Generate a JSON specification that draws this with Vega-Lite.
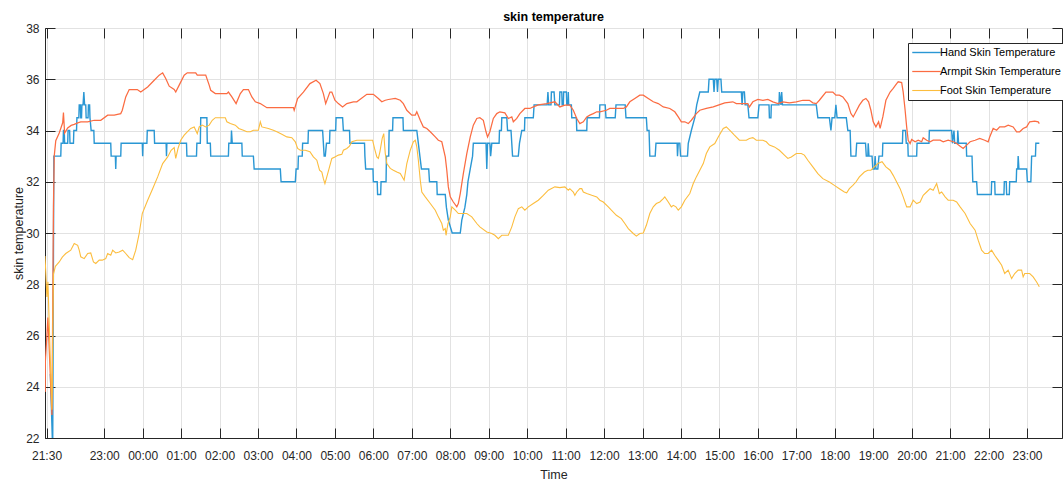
{
"$schema":"https://vega.github.io/schema/vega-lite/v6.json",
"width":1017,"height":410,
"autosize":{"type":"none"},
"padding":{"left":45,"top":28,"right":1,"bottom":43},
"background":"#ffffff",
"title":{"text":"skin temperature","fontSize":12.5,"fontWeight":"bold","color":"#000000","font":"Liberation Sans","offset":-1,"anchor":"middle"},
"config":{
 "font":"Liberation Sans",
 "view":{"stroke":"#262626","strokeWidth":1},
 "axis":{"labelFont":"Liberation Sans","labelFontSize":12,"labelColor":"#262626","titleFont":"Liberation Sans","titleFontSize":12.5,"titleFontWeight":"normal","titleColor":"#262626","gridColor":"#e2e2e2","gridOpacity":1,"domainColor":"#262626","tickColor":"#262626"}
},
"datasets":{"d":[
{"s":"Hand","h":21.6,"v":24.5},{"s":"Hand","h":21.66,"v":21.5},{"s":"Hand","h":21.69,"v":33.0},{"s":"Hand","h":21.87,"v":33.0},{"s":"Hand","h":21.88,"v":33.5},{"s":"Hand","h":21.93,"v":33.5},{"s":"Hand","h":21.94,"v":34.0},{"s":"Hand","h":21.96,"v":34.0},{"s":"Hand","h":21.97,"v":33.5},{"s":"Hand","h":22.05,"v":33.5},{"s":"Hand","h":22.06,"v":34.0},{"s":"Hand","h":22.1,"v":34.0},{"s":"Hand","h":22.11,"v":33.5},{"s":"Hand","h":22.2,"v":33.5},{"s":"Hand","h":22.21,"v":34.0},{"s":"Hand","h":22.28,"v":34.0},{"s":"Hand","h":22.29,"v":34.5},{"s":"Hand","h":22.34,"v":34.5},{"s":"Hand","h":22.35,"v":35.0},{"s":"Hand","h":22.38,"v":35.0},{"s":"Hand","h":22.39,"v":34.5},{"s":"Hand","h":22.41,"v":34.5},{"s":"Hand","h":22.42,"v":35.0},{"s":"Hand","h":22.45,"v":35.0},{"s":"Hand","h":22.47,"v":35.5},{"s":"Hand","h":22.49,"v":35.0},{"s":"Hand","h":22.52,"v":35.0},{"s":"Hand","h":22.53,"v":34.5},{"s":"Hand","h":22.58,"v":34.5},{"s":"Hand","h":22.59,"v":35.0},{"s":"Hand","h":22.62,"v":35.0},{"s":"Hand","h":22.63,"v":34.5},{"s":"Hand","h":22.66,"v":34.0},{"s":"Hand","h":22.73,"v":34.0},{"s":"Hand","h":22.74,"v":33.5},{"s":"Hand","h":23.17,"v":33.5},{"s":"Hand","h":23.18,"v":33.0},{"s":"Hand","h":23.29,"v":33.0},{"s":"Hand","h":23.3,"v":32.5},{"s":"Hand","h":23.31,"v":33.0},{"s":"Hand","h":23.43,"v":33.0},{"s":"Hand","h":23.44,"v":33.5},{"s":"Hand","h":23.99,"v":33.5},{"s":"Hand","h":24.0,"v":33.0},{"s":"Hand","h":24.01,"v":33.5},{"s":"Hand","h":24.11,"v":33.5},{"s":"Hand","h":24.12,"v":34.0},{"s":"Hand","h":24.3,"v":34.0},{"s":"Hand","h":24.31,"v":33.5},{"s":"Hand","h":24.61,"v":33.5},{"s":"Hand","h":24.62,"v":33.0},{"s":"Hand","h":24.63,"v":33.5},{"s":"Hand","h":25.14,"v":33.5},{"s":"Hand","h":25.15,"v":33.0},{"s":"Hand","h":25.4,"v":33.0},{"s":"Hand","h":25.41,"v":33.5},{"s":"Hand","h":25.5,"v":33.5},{"s":"Hand","h":25.51,"v":34.5},{"s":"Hand","h":25.67,"v":34.5},{"s":"Hand","h":25.68,"v":33.5},{"s":"Hand","h":25.76,"v":33.5},{"s":"Hand","h":25.77,"v":33.0},{"s":"Hand","h":26.23,"v":33.0},{"s":"Hand","h":26.24,"v":33.5},{"s":"Hand","h":26.3,"v":33.5},{"s":"Hand","h":26.31,"v":34.0},{"s":"Hand","h":26.33,"v":33.5},{"s":"Hand","h":26.58,"v":33.5},{"s":"Hand","h":26.59,"v":33.0},{"s":"Hand","h":26.88,"v":33.0},{"s":"Hand","h":26.9,"v":32.5},{"s":"Hand","h":27.58,"v":32.5},{"s":"Hand","h":27.6,"v":32.0},{"s":"Hand","h":27.97,"v":32.0},{"s":"Hand","h":27.99,"v":32.5},{"s":"Hand","h":28.04,"v":32.5},{"s":"Hand","h":28.05,"v":33.0},{"s":"Hand","h":28.15,"v":33.0},{"s":"Hand","h":28.16,"v":33.5},{"s":"Hand","h":28.3,"v":33.5},{"s":"Hand","h":28.31,"v":34.0},{"s":"Hand","h":28.68,"v":34.0},{"s":"Hand","h":28.72,"v":33.0},{"s":"Hand","h":28.75,"v":33.0},{"s":"Hand","h":28.78,"v":33.5},{"s":"Hand","h":28.86,"v":33.5},{"s":"Hand","h":28.87,"v":34.0},{"s":"Hand","h":29.02,"v":34.0},{"s":"Hand","h":29.03,"v":34.5},{"s":"Hand","h":29.2,"v":34.5},{"s":"Hand","h":29.22,"v":34.0},{"s":"Hand","h":29.38,"v":34.0},{"s":"Hand","h":29.39,"v":33.5},{"s":"Hand","h":29.77,"v":33.5},{"s":"Hand","h":29.78,"v":33.0},{"s":"Hand","h":29.8,"v":32.5},{"s":"Hand","h":29.99,"v":32.5},{"s":"Hand","h":30.0,"v":32.0},{"s":"Hand","h":30.1,"v":32.0},{"s":"Hand","h":30.11,"v":31.5},{"s":"Hand","h":30.19,"v":31.5},{"s":"Hand","h":30.2,"v":32.0},{"s":"Hand","h":30.33,"v":32.0},{"s":"Hand","h":30.34,"v":33.0},{"s":"Hand","h":30.4,"v":33.0},{"s":"Hand","h":30.41,"v":34.0},{"s":"Hand","h":30.5,"v":34.0},{"s":"Hand","h":30.51,"v":34.5},{"s":"Hand","h":30.77,"v":34.5},{"s":"Hand","h":30.78,"v":34.0},{"s":"Hand","h":31.13,"v":34.0},{"s":"Hand","h":31.17,"v":33.5},{"s":"Hand","h":31.21,"v":33.0},{"s":"Hand","h":31.25,"v":32.5},{"s":"Hand","h":31.44,"v":32.5},{"s":"Hand","h":31.46,"v":32.0},{"s":"Hand","h":31.65,"v":32.0},{"s":"Hand","h":31.66,"v":31.5},{"s":"Hand","h":31.87,"v":31.5},{"s":"Hand","h":31.9,"v":31.0},{"s":"Hand","h":31.95,"v":30.5},{"s":"Hand","h":32.05,"v":30.0},{"s":"Hand","h":32.26,"v":30.0},{"s":"Hand","h":32.3,"v":30.5},{"s":"Hand","h":32.38,"v":31.0},{"s":"Hand","h":32.43,"v":31.5},{"s":"Hand","h":32.46,"v":32.0},{"s":"Hand","h":32.52,"v":32.5},{"s":"Hand","h":32.58,"v":33.0},{"s":"Hand","h":32.6,"v":33.5},{"s":"Hand","h":32.93,"v":33.5},{"s":"Hand","h":32.95,"v":32.5},{"s":"Hand","h":32.97,"v":33.5},{"s":"Hand","h":33.03,"v":33.5},{"s":"Hand","h":33.05,"v":33.0},{"s":"Hand","h":33.08,"v":33.5},{"s":"Hand","h":33.27,"v":33.5},{"s":"Hand","h":33.28,"v":34.0},{"s":"Hand","h":33.33,"v":34.0},{"s":"Hand","h":33.34,"v":34.5},{"s":"Hand","h":33.47,"v":34.5},{"s":"Hand","h":33.49,"v":34.0},{"s":"Hand","h":33.58,"v":34.0},{"s":"Hand","h":33.6,"v":33.5},{"s":"Hand","h":33.62,"v":33.0},{"s":"Hand","h":33.77,"v":33.0},{"s":"Hand","h":33.8,"v":33.5},{"s":"Hand","h":33.86,"v":34.0},{"s":"Hand","h":33.93,"v":34.0},{"s":"Hand","h":33.94,"v":34.5},{"s":"Hand","h":34.16,"v":34.5},{"s":"Hand","h":34.18,"v":35.0},{"s":"Hand","h":34.52,"v":35.0},{"s":"Hand","h":34.54,"v":35.5},{"s":"Hand","h":34.56,"v":35.0},{"s":"Hand","h":34.62,"v":35.0},{"s":"Hand","h":34.63,"v":35.5},{"s":"Hand","h":34.7,"v":35.5},{"s":"Hand","h":34.72,"v":35.0},{"s":"Hand","h":34.84,"v":35.0},{"s":"Hand","h":34.85,"v":35.5},{"s":"Hand","h":34.9,"v":35.5},{"s":"Hand","h":34.91,"v":35.0},{"s":"Hand","h":34.94,"v":35.0},{"s":"Hand","h":34.95,"v":35.5},{"s":"Hand","h":35.02,"v":35.5},{"s":"Hand","h":35.03,"v":35.0},{"s":"Hand","h":35.06,"v":35.0},{"s":"Hand","h":35.07,"v":35.5},{"s":"Hand","h":35.08,"v":35.0},{"s":"Hand","h":35.15,"v":35.0},{"s":"Hand","h":35.16,"v":34.5},{"s":"Hand","h":35.28,"v":34.5},{"s":"Hand","h":35.29,"v":34.0},{"s":"Hand","h":35.55,"v":34.0},{"s":"Hand","h":35.56,"v":34.5},{"s":"Hand","h":35.88,"v":34.5},{"s":"Hand","h":35.89,"v":35.0},{"s":"Hand","h":36.03,"v":35.0},{"s":"Hand","h":36.05,"v":34.5},{"s":"Hand","h":36.29,"v":34.5},{"s":"Hand","h":36.31,"v":35.0},{"s":"Hand","h":36.55,"v":35.0},{"s":"Hand","h":36.57,"v":34.5},{"s":"Hand","h":37.1,"v":34.5},{"s":"Hand","h":37.12,"v":34.0},{"s":"Hand","h":37.17,"v":34.0},{"s":"Hand","h":37.19,"v":33.0},{"s":"Hand","h":37.33,"v":33.0},{"s":"Hand","h":37.35,"v":33.5},{"s":"Hand","h":37.9,"v":33.5},{"s":"Hand","h":37.91,"v":33.0},{"s":"Hand","h":37.93,"v":33.5},{"s":"Hand","h":37.97,"v":33.5},{"s":"Hand","h":37.99,"v":33.0},{"s":"Hand","h":38.17,"v":33.0},{"s":"Hand","h":38.19,"v":33.5},{"s":"Hand","h":38.27,"v":34.0},{"s":"Hand","h":38.36,"v":34.5},{"s":"Hand","h":38.41,"v":35.0},{"s":"Hand","h":38.49,"v":35.5},{"s":"Hand","h":38.71,"v":35.5},{"s":"Hand","h":38.73,"v":36.0},{"s":"Hand","h":38.84,"v":36.0},{"s":"Hand","h":38.86,"v":35.5},{"s":"Hand","h":38.88,"v":36.0},{"s":"Hand","h":38.93,"v":36.0},{"s":"Hand","h":38.95,"v":35.5},{"s":"Hand","h":38.97,"v":36.0},{"s":"Hand","h":39.04,"v":36.0},{"s":"Hand","h":39.06,"v":35.5},{"s":"Hand","h":39.57,"v":35.5},{"s":"Hand","h":39.59,"v":35.0},{"s":"Hand","h":39.61,"v":35.5},{"s":"Hand","h":39.65,"v":35.5},{"s":"Hand","h":39.67,"v":35.0},{"s":"Hand","h":39.74,"v":35.0},{"s":"Hand","h":39.77,"v":34.5},{"s":"Hand","h":40.0,"v":34.5},{"s":"Hand","h":40.03,"v":35.0},{"s":"Hand","h":40.29,"v":35.0},{"s":"Hand","h":40.3,"v":34.5},{"s":"Hand","h":40.34,"v":34.5},{"s":"Hand","h":40.35,"v":35.0},{"s":"Hand","h":40.55,"v":35.0},{"s":"Hand","h":40.56,"v":35.5},{"s":"Hand","h":40.6,"v":35.0},{"s":"Hand","h":40.62,"v":35.5},{"s":"Hand","h":40.64,"v":35.0},{"s":"Hand","h":41.52,"v":35.0},{"s":"Hand","h":41.56,"v":34.5},{"s":"Hand","h":41.86,"v":34.5},{"s":"Hand","h":41.9,"v":34.0},{"s":"Hand","h":41.93,"v":34.5},{"s":"Hand","h":42.0,"v":34.5},{"s":"Hand","h":42.03,"v":35.0},{"s":"Hand","h":42.06,"v":34.5},{"s":"Hand","h":42.3,"v":34.5},{"s":"Hand","h":42.34,"v":34.0},{"s":"Hand","h":42.4,"v":34.0},{"s":"Hand","h":42.42,"v":33.0},{"s":"Hand","h":42.55,"v":33.0},{"s":"Hand","h":42.57,"v":33.5},{"s":"Hand","h":42.8,"v":33.5},{"s":"Hand","h":42.82,"v":33.0},{"s":"Hand","h":42.86,"v":33.0},{"s":"Hand","h":42.87,"v":33.5},{"s":"Hand","h":42.89,"v":33.0},{"s":"Hand","h":42.97,"v":33.0},{"s":"Hand","h":42.99,"v":32.5},{"s":"Hand","h":43.03,"v":32.5},{"s":"Hand","h":43.05,"v":33.0},{"s":"Hand","h":43.07,"v":32.5},{"s":"Hand","h":43.12,"v":32.5},{"s":"Hand","h":43.15,"v":33.0},{"s":"Hand","h":43.24,"v":33.0},{"s":"Hand","h":43.25,"v":33.5},{"s":"Hand","h":43.76,"v":33.5},{"s":"Hand","h":43.77,"v":34.0},{"s":"Hand","h":43.84,"v":34.0},{"s":"Hand","h":43.86,"v":33.5},{"s":"Hand","h":43.9,"v":33.5},{"s":"Hand","h":43.91,"v":33.0},{"s":"Hand","h":44.13,"v":33.0},{"s":"Hand","h":44.14,"v":33.5},{"s":"Hand","h":44.45,"v":33.5},{"s":"Hand","h":44.46,"v":34.0},{"s":"Hand","h":45.04,"v":34.0},{"s":"Hand","h":45.06,"v":33.5},{"s":"Hand","h":45.1,"v":34.0},{"s":"Hand","h":45.12,"v":33.5},{"s":"Hand","h":45.19,"v":33.5},{"s":"Hand","h":45.2,"v":34.0},{"s":"Hand","h":45.22,"v":33.5},{"s":"Hand","h":45.42,"v":33.5},{"s":"Hand","h":45.43,"v":33.0},{"s":"Hand","h":45.57,"v":33.0},{"s":"Hand","h":45.59,"v":32.0},{"s":"Hand","h":45.69,"v":32.0},{"s":"Hand","h":45.71,"v":31.5},{"s":"Hand","h":46.07,"v":31.5},{"s":"Hand","h":46.08,"v":32.0},{"s":"Hand","h":46.16,"v":32.0},{"s":"Hand","h":46.17,"v":31.5},{"s":"Hand","h":46.4,"v":31.5},{"s":"Hand","h":46.41,"v":32.0},{"s":"Hand","h":46.46,"v":32.0},{"s":"Hand","h":46.47,"v":31.5},{"s":"Hand","h":46.54,"v":31.5},{"s":"Hand","h":46.55,"v":32.0},{"s":"Hand","h":46.72,"v":32.0},{"s":"Hand","h":46.73,"v":32.5},{"s":"Hand","h":46.76,"v":32.5},{"s":"Hand","h":46.77,"v":33.0},{"s":"Hand","h":46.79,"v":32.5},{"s":"Hand","h":46.99,"v":32.5},{"s":"Hand","h":47.01,"v":32.0},{"s":"Hand","h":47.1,"v":32.0},{"s":"Hand","h":47.12,"v":33.0},{"s":"Hand","h":47.22,"v":33.0},{"s":"Hand","h":47.23,"v":33.5},{"s":"Hand","h":47.32,"v":33.5},
{"s":"Armpit","h":21.466,"v":23.8},{"s":"Armpit","h":21.47,"v":25.0},{"s":"Armpit","h":21.536,"v":26.7},{"s":"Armpit","h":21.64,"v":22.9},{"s":"Armpit","h":21.68,"v":31.0},{"s":"Armpit","h":21.7,"v":33.0},{"s":"Armpit","h":21.74,"v":33.6},{"s":"Armpit","h":21.83,"v":33.9},{"s":"Armpit","h":21.92,"v":34.3},{"s":"Armpit","h":21.94,"v":34.7},{"s":"Armpit","h":21.97,"v":33.9},{"s":"Armpit","h":22.05,"v":34.1},{"s":"Armpit","h":22.14,"v":34.2},{"s":"Armpit","h":22.22,"v":34.24},{"s":"Armpit","h":22.31,"v":34.3},{"s":"Armpit","h":22.39,"v":34.34},{"s":"Armpit","h":22.57,"v":34.34},{"s":"Armpit","h":22.74,"v":34.4},{"s":"Armpit","h":22.91,"v":34.4},{"s":"Armpit","h":23.09,"v":34.6},{"s":"Armpit","h":23.26,"v":34.6},{"s":"Armpit","h":23.43,"v":34.66},{"s":"Armpit","h":23.47,"v":34.79},{"s":"Armpit","h":23.56,"v":35.31},{"s":"Armpit","h":23.65,"v":35.6},{"s":"Armpit","h":23.86,"v":35.6},{"s":"Armpit","h":23.95,"v":35.5},{"s":"Armpit","h":24.13,"v":35.7},{"s":"Armpit","h":24.3,"v":35.96},{"s":"Armpit","h":24.43,"v":36.16},{"s":"Armpit","h":24.52,"v":36.25},{"s":"Armpit","h":24.6,"v":36.03},{"s":"Armpit","h":24.69,"v":35.73},{"s":"Armpit","h":24.82,"v":35.6},{"s":"Armpit","h":24.86,"v":35.5},{"s":"Armpit","h":24.95,"v":35.77},{"s":"Armpit","h":25.08,"v":36.16},{"s":"Armpit","h":25.16,"v":36.25},{"s":"Armpit","h":25.38,"v":36.25},{"s":"Armpit","h":25.42,"v":36.16},{"s":"Armpit","h":25.64,"v":36.16},{"s":"Armpit","h":25.73,"v":35.77},{"s":"Armpit","h":25.77,"v":35.57},{"s":"Armpit","h":25.89,"v":35.44},{"s":"Armpit","h":26.19,"v":35.44},{"s":"Armpit","h":26.23,"v":35.5},{"s":"Armpit","h":26.32,"v":35.31},{"s":"Armpit","h":26.43,"v":35.05},{"s":"Armpit","h":26.54,"v":35.44},{"s":"Armpit","h":26.62,"v":35.6},{"s":"Armpit","h":26.75,"v":35.6},{"s":"Armpit","h":26.84,"v":35.31},{"s":"Armpit","h":26.93,"v":35.12},{"s":"Armpit","h":27.06,"v":35.05},{"s":"Armpit","h":27.23,"v":34.89},{"s":"Armpit","h":27.92,"v":34.89},{"s":"Armpit","h":27.94,"v":34.79},{"s":"Armpit","h":28.03,"v":35.25},{"s":"Armpit","h":28.18,"v":35.5},{"s":"Armpit","h":28.35,"v":35.83},{"s":"Armpit","h":28.51,"v":35.96},{"s":"Armpit","h":28.61,"v":35.83},{"s":"Armpit","h":28.7,"v":35.44},{"s":"Armpit","h":28.76,"v":35.05},{"s":"Armpit","h":28.87,"v":35.5},{"s":"Armpit","h":28.92,"v":35.5},{"s":"Armpit","h":29.0,"v":35.18},{"s":"Armpit","h":29.09,"v":35.05},{"s":"Armpit","h":29.2,"v":34.92},{"s":"Armpit","h":29.31,"v":35.05},{"s":"Armpit","h":29.48,"v":35.12},{"s":"Armpit","h":29.57,"v":35.12},{"s":"Armpit","h":29.65,"v":35.21},{"s":"Armpit","h":29.83,"v":35.41},{"s":"Armpit","h":30.0,"v":35.41},{"s":"Armpit","h":30.13,"v":35.25},{"s":"Armpit","h":30.22,"v":35.12},{"s":"Armpit","h":30.31,"v":35.18},{"s":"Armpit","h":30.39,"v":35.21},{"s":"Armpit","h":30.57,"v":35.25},{"s":"Armpit","h":30.7,"v":35.18},{"s":"Armpit","h":30.78,"v":35.05},{"s":"Armpit","h":30.87,"v":34.79},{"s":"Armpit","h":31.0,"v":34.6},{"s":"Armpit","h":31.09,"v":34.6},{"s":"Armpit","h":31.13,"v":34.73},{"s":"Armpit","h":31.22,"v":34.4},{"s":"Armpit","h":31.3,"v":34.14},{"s":"Armpit","h":31.39,"v":34.08},{"s":"Armpit","h":31.48,"v":33.95},{"s":"Armpit","h":31.61,"v":33.75},{"s":"Armpit","h":31.69,"v":33.62},{"s":"Armpit","h":31.78,"v":33.56},{"s":"Armpit","h":31.87,"v":32.97},{"s":"Armpit","h":31.91,"v":32.45},{"s":"Armpit","h":31.95,"v":31.8},{"s":"Armpit","h":32.0,"v":31.41},{"s":"Armpit","h":32.08,"v":31.21},{"s":"Armpit","h":32.17,"v":31.02},{"s":"Armpit","h":32.21,"v":31.15},{"s":"Armpit","h":32.26,"v":31.54},{"s":"Armpit","h":32.34,"v":32.32},{"s":"Armpit","h":32.43,"v":33.1},{"s":"Armpit","h":32.52,"v":33.75},{"s":"Armpit","h":32.6,"v":34.21},{"s":"Armpit","h":32.69,"v":34.47},{"s":"Armpit","h":32.77,"v":34.5},{"s":"Armpit","h":32.86,"v":34.4},{"s":"Armpit","h":32.93,"v":33.95},{"s":"Armpit","h":32.97,"v":33.75},{"s":"Armpit","h":33.03,"v":33.95},{"s":"Armpit","h":33.12,"v":34.47},{"s":"Armpit","h":33.21,"v":34.66},{"s":"Armpit","h":33.29,"v":34.73},{"s":"Armpit","h":33.42,"v":34.69},{"s":"Armpit","h":33.51,"v":34.47},{"s":"Armpit","h":33.6,"v":34.53},{"s":"Armpit","h":33.64,"v":34.34},{"s":"Armpit","h":33.73,"v":34.47},{"s":"Armpit","h":33.81,"v":34.66},{"s":"Armpit","h":33.94,"v":34.86},{"s":"Armpit","h":34.07,"v":34.86},{"s":"Armpit","h":34.16,"v":34.92},{"s":"Armpit","h":34.29,"v":35.0},{"s":"Armpit","h":34.51,"v":35.05},{"s":"Armpit","h":34.72,"v":35.12},{"s":"Armpit","h":34.85,"v":34.92},{"s":"Armpit","h":34.98,"v":34.99},{"s":"Armpit","h":35.11,"v":34.99},{"s":"Armpit","h":35.2,"v":34.79},{"s":"Armpit","h":35.29,"v":34.47},{"s":"Armpit","h":35.37,"v":34.27},{"s":"Armpit","h":35.46,"v":34.34},{"s":"Armpit","h":35.55,"v":34.53},{"s":"Armpit","h":35.63,"v":34.6},{"s":"Armpit","h":35.72,"v":34.66},{"s":"Armpit","h":35.81,"v":34.73},{"s":"Armpit","h":35.89,"v":34.73},{"s":"Armpit","h":36.06,"v":34.79},{"s":"Armpit","h":36.15,"v":34.86},{"s":"Armpit","h":36.5,"v":34.86},{"s":"Armpit","h":36.58,"v":34.92},{"s":"Armpit","h":36.67,"v":35.12},{"s":"Armpit","h":36.8,"v":35.25},{"s":"Armpit","h":36.93,"v":35.38},{"s":"Armpit","h":37.02,"v":35.38},{"s":"Armpit","h":37.15,"v":35.25},{"s":"Armpit","h":37.28,"v":35.12},{"s":"Armpit","h":37.41,"v":35.05},{"s":"Armpit","h":37.54,"v":34.92},{"s":"Armpit","h":37.71,"v":34.86},{"s":"Armpit","h":37.84,"v":34.73},{"s":"Armpit","h":37.93,"v":34.53},{"s":"Armpit","h":38.01,"v":34.34},{"s":"Armpit","h":38.1,"v":34.34},{"s":"Armpit","h":38.19,"v":34.27},{"s":"Armpit","h":38.27,"v":34.4},{"s":"Armpit","h":38.4,"v":34.66},{"s":"Armpit","h":38.49,"v":34.79},{"s":"Armpit","h":38.66,"v":34.86},{"s":"Armpit","h":38.84,"v":34.92},{"s":"Armpit","h":38.97,"v":34.99},{"s":"Armpit","h":39.14,"v":35.08},{"s":"Armpit","h":39.35,"v":35.12},{"s":"Armpit","h":39.44,"v":35.05},{"s":"Armpit","h":39.74,"v":35.05},{"s":"Armpit","h":39.78,"v":34.92},{"s":"Armpit","h":39.87,"v":35.12},{"s":"Armpit","h":40.0,"v":35.21},{"s":"Armpit","h":40.13,"v":35.18},{"s":"Armpit","h":40.26,"v":35.21},{"s":"Armpit","h":40.39,"v":35.12},{"s":"Armpit","h":40.52,"v":35.05},{"s":"Armpit","h":40.65,"v":35.12},{"s":"Armpit","h":40.82,"v":35.08},{"s":"Armpit","h":41.0,"v":35.12},{"s":"Armpit","h":41.17,"v":35.18},{"s":"Armpit","h":41.34,"v":35.18},{"s":"Armpit","h":41.43,"v":35.08},{"s":"Armpit","h":41.52,"v":35.05},{"s":"Armpit","h":41.6,"v":35.18},{"s":"Armpit","h":41.77,"v":35.5},{"s":"Armpit","h":41.95,"v":35.5},{"s":"Armpit","h":42.03,"v":35.38},{"s":"Armpit","h":42.12,"v":35.38},{"s":"Armpit","h":42.21,"v":35.31},{"s":"Armpit","h":42.34,"v":35.05},{"s":"Armpit","h":42.42,"v":34.66},{"s":"Armpit","h":42.48,"v":34.53},{"s":"Armpit","h":42.55,"v":34.73},{"s":"Armpit","h":42.64,"v":34.99},{"s":"Armpit","h":42.73,"v":35.18},{"s":"Armpit","h":42.81,"v":35.25},{"s":"Armpit","h":42.88,"v":35.12},{"s":"Armpit","h":42.94,"v":34.79},{"s":"Armpit","h":43.0,"v":34.34},{"s":"Armpit","h":43.07,"v":34.14},{"s":"Armpit","h":43.14,"v":34.34},{"s":"Armpit","h":43.18,"v":34.08},{"s":"Armpit","h":43.25,"v":34.53},{"s":"Armpit","h":43.33,"v":35.18},{"s":"Armpit","h":43.44,"v":35.5},{"s":"Armpit","h":43.52,"v":35.64},{"s":"Armpit","h":43.61,"v":35.83},{"s":"Armpit","h":43.65,"v":35.9},{"s":"Armpit","h":43.74,"v":35.87},{"s":"Armpit","h":43.78,"v":35.5},{"s":"Armpit","h":43.83,"v":34.79},{"s":"Armpit","h":43.87,"v":34.14},{"s":"Armpit","h":43.91,"v":33.62},{"s":"Armpit","h":43.96,"v":33.49},{"s":"Armpit","h":44.0,"v":33.65},{"s":"Armpit","h":44.09,"v":33.56},{"s":"Armpit","h":44.17,"v":33.62},{"s":"Armpit","h":44.26,"v":33.56},{"s":"Armpit","h":44.3,"v":33.72},{"s":"Armpit","h":44.39,"v":33.62},{"s":"Armpit","h":44.48,"v":33.56},{"s":"Armpit","h":44.56,"v":33.62},{"s":"Armpit","h":44.74,"v":33.62},{"s":"Armpit","h":44.82,"v":33.56},{"s":"Armpit","h":44.95,"v":33.62},{"s":"Armpit","h":45.08,"v":33.56},{"s":"Armpit","h":45.17,"v":33.49},{"s":"Armpit","h":45.26,"v":33.39},{"s":"Armpit","h":45.34,"v":33.3},{"s":"Armpit","h":45.43,"v":33.43},{"s":"Armpit","h":45.52,"v":33.56},{"s":"Armpit","h":45.65,"v":33.62},{"s":"Armpit","h":45.77,"v":33.69},{"s":"Armpit","h":45.9,"v":33.62},{"s":"Armpit","h":45.99,"v":33.56},{"s":"Armpit","h":46.03,"v":33.75},{"s":"Armpit","h":46.12,"v":34.08},{"s":"Armpit","h":46.21,"v":34.01},{"s":"Armpit","h":46.29,"v":34.14},{"s":"Armpit","h":46.42,"v":34.14},{"s":"Armpit","h":46.51,"v":34.21},{"s":"Armpit","h":46.64,"v":34.14},{"s":"Armpit","h":46.73,"v":33.95},{"s":"Armpit","h":46.81,"v":33.95},{"s":"Armpit","h":46.9,"v":34.08},{"s":"Armpit","h":46.99,"v":34.14},{"s":"Armpit","h":47.07,"v":34.34},{"s":"Armpit","h":47.2,"v":34.37},{"s":"Armpit","h":47.29,"v":34.34},{"s":"Armpit","h":47.32,"v":34.27},
{"s":"Foot","h":21.46,"v":29.1},{"s":"Foot","h":21.51,"v":27.5},{"s":"Foot","h":21.536,"v":28.1},{"s":"Foot","h":21.6,"v":25.0},{"s":"Foot","h":21.64,"v":23.1},{"s":"Foot","h":21.68,"v":28.4},{"s":"Foot","h":21.73,"v":28.7},{"s":"Foot","h":21.83,"v":28.87},{"s":"Foot","h":21.91,"v":29.06},{"s":"Foot","h":22.0,"v":29.2},{"s":"Foot","h":22.13,"v":29.33},{"s":"Foot","h":22.22,"v":29.59},{"s":"Foot","h":22.31,"v":29.52},{"s":"Foot","h":22.35,"v":29.33},{"s":"Foot","h":22.39,"v":29.07},{"s":"Foot","h":22.48,"v":29.0},{"s":"Foot","h":22.57,"v":29.2},{"s":"Foot","h":22.65,"v":29.22},{"s":"Foot","h":22.72,"v":28.87},{"s":"Foot","h":22.78,"v":28.81},{"s":"Foot","h":22.87,"v":28.94},{"s":"Foot","h":22.95,"v":28.94},{"s":"Foot","h":23.04,"v":29.0},{"s":"Foot","h":23.09,"v":29.2},{"s":"Foot","h":23.17,"v":29.13},{"s":"Foot","h":23.22,"v":29.33},{"s":"Foot","h":23.3,"v":29.22},{"s":"Foot","h":23.39,"v":29.26},{"s":"Foot","h":23.48,"v":29.33},{"s":"Foot","h":23.56,"v":29.2},{"s":"Foot","h":23.65,"v":29.04},{"s":"Foot","h":23.74,"v":28.96},{"s":"Foot","h":23.82,"v":29.33},{"s":"Foot","h":23.91,"v":29.98},{"s":"Foot","h":23.99,"v":30.76},{"s":"Foot","h":24.13,"v":31.28},{"s":"Foot","h":24.26,"v":31.73},{"s":"Foot","h":24.39,"v":32.19},{"s":"Foot","h":24.52,"v":32.71},{"s":"Foot","h":24.65,"v":32.97},{"s":"Foot","h":24.74,"v":33.23},{"s":"Foot","h":24.82,"v":33.33},{"s":"Foot","h":24.86,"v":32.91},{"s":"Foot","h":24.92,"v":33.3},{"s":"Foot","h":24.99,"v":33.62},{"s":"Foot","h":25.08,"v":33.82},{"s":"Foot","h":25.16,"v":33.95},{"s":"Foot","h":25.25,"v":34.08},{"s":"Foot","h":25.34,"v":34.14},{"s":"Foot","h":25.38,"v":34.01},{"s":"Foot","h":25.42,"v":33.88},{"s":"Foot","h":25.47,"v":34.14},{"s":"Foot","h":25.55,"v":34.21},{"s":"Foot","h":25.64,"v":34.14},{"s":"Foot","h":25.73,"v":34.21},{"s":"Foot","h":25.81,"v":34.4},{"s":"Foot","h":25.89,"v":34.5},{"s":"Foot","h":26.15,"v":34.5},{"s":"Foot","h":26.19,"v":34.34},{"s":"Foot","h":26.28,"v":34.27},{"s":"Foot","h":26.41,"v":34.21},{"s":"Foot","h":26.5,"v":34.08},{"s":"Foot","h":26.62,"v":34.01},{"s":"Foot","h":26.71,"v":33.95},{"s":"Foot","h":26.8,"v":33.95},{"s":"Foot","h":26.88,"v":34.01},{"s":"Foot","h":27.01,"v":34.01},{"s":"Foot","h":27.06,"v":34.34},{"s":"Foot","h":27.1,"v":34.14},{"s":"Foot","h":27.27,"v":34.08},{"s":"Foot","h":27.4,"v":34.01},{"s":"Foot","h":27.49,"v":33.95},{"s":"Foot","h":27.62,"v":33.85},{"s":"Foot","h":27.75,"v":33.75},{"s":"Foot","h":27.88,"v":33.72},{"s":"Foot","h":27.97,"v":33.56},{"s":"Foot","h":28.03,"v":33.3},{"s":"Foot","h":28.1,"v":33.23},{"s":"Foot","h":28.23,"v":33.23},{"s":"Foot","h":28.35,"v":33.17},{"s":"Foot","h":28.44,"v":32.97},{"s":"Foot","h":28.53,"v":32.84},{"s":"Foot","h":28.6,"v":32.45},{"s":"Foot","h":28.66,"v":32.38},{"s":"Foot","h":28.7,"v":32.12},{"s":"Foot","h":28.74,"v":31.93},{"s":"Foot","h":28.8,"v":32.25},{"s":"Foot","h":28.86,"v":32.58},{"s":"Foot","h":28.92,"v":32.91},{"s":"Foot","h":29.0,"v":32.97},{"s":"Foot","h":29.09,"v":33.04},{"s":"Foot","h":29.18,"v":33.07},{"s":"Foot","h":29.22,"v":33.23},{"s":"Foot","h":29.31,"v":33.3},{"s":"Foot","h":29.38,"v":33.39},{"s":"Foot","h":29.44,"v":33.56},{"s":"Foot","h":29.57,"v":33.62},{"s":"Foot","h":29.98,"v":33.62},{"s":"Foot","h":30.03,"v":33.3},{"s":"Foot","h":30.09,"v":32.97},{"s":"Foot","h":30.13,"v":32.91},{"s":"Foot","h":30.17,"v":33.17},{"s":"Foot","h":30.23,"v":33.69},{"s":"Foot","h":30.27,"v":33.88},{"s":"Foot","h":30.31,"v":33.1},{"s":"Foot","h":30.35,"v":32.71},{"s":"Foot","h":30.44,"v":32.52},{"s":"Foot","h":30.52,"v":32.45},{"s":"Foot","h":30.61,"v":32.38},{"s":"Foot","h":30.7,"v":32.32},{"s":"Foot","h":30.8,"v":32.06},{"s":"Foot","h":30.87,"v":32.71},{"s":"Foot","h":30.96,"v":33.23},{"s":"Foot","h":31.04,"v":33.56},{"s":"Foot","h":31.09,"v":33.62},{"s":"Foot","h":31.13,"v":33.36},{"s":"Foot","h":31.17,"v":32.84},{"s":"Foot","h":31.22,"v":32.06},{"s":"Foot","h":31.26,"v":31.6},{"s":"Foot","h":31.35,"v":31.41},{"s":"Foot","h":31.48,"v":31.15},{"s":"Foot","h":31.61,"v":30.89},{"s":"Foot","h":31.69,"v":30.63},{"s":"Foot","h":31.78,"v":30.37},{"s":"Foot","h":31.82,"v":30.11},{"s":"Foot","h":31.87,"v":30.17},{"s":"Foot","h":31.89,"v":29.91},{"s":"Foot","h":31.94,"v":30.37},{"s":"Foot","h":32.0,"v":30.63},{"s":"Foot","h":32.04,"v":31.02},{"s":"Foot","h":32.13,"v":30.89},{"s":"Foot","h":32.21,"v":30.76},{"s":"Foot","h":32.43,"v":30.76},{"s":"Foot","h":32.56,"v":30.63},{"s":"Foot","h":32.69,"v":30.37},{"s":"Foot","h":32.77,"v":30.24},{"s":"Foot","h":32.95,"v":30.04},{"s":"Foot","h":33.08,"v":29.98},{"s":"Foot","h":33.16,"v":29.91},{"s":"Foot","h":33.25,"v":29.78},{"s":"Foot","h":33.34,"v":29.91},{"s":"Foot","h":33.51,"v":29.91},{"s":"Foot","h":33.6,"v":30.24},{"s":"Foot","h":33.68,"v":30.63},{"s":"Foot","h":33.77,"v":30.95},{"s":"Foot","h":33.86,"v":31.02},{"s":"Foot","h":33.94,"v":30.89},{"s":"Foot","h":34.03,"v":31.02},{"s":"Foot","h":34.16,"v":31.15},{"s":"Foot","h":34.29,"v":31.28},{"s":"Foot","h":34.42,"v":31.47},{"s":"Foot","h":34.55,"v":31.67},{"s":"Foot","h":34.72,"v":31.8},{"s":"Foot","h":34.85,"v":31.77},{"s":"Foot","h":34.98,"v":31.8},{"s":"Foot","h":35.07,"v":31.67},{"s":"Foot","h":35.11,"v":31.73},{"s":"Foot","h":35.2,"v":31.6},{"s":"Foot","h":35.24,"v":31.47},{"s":"Foot","h":35.29,"v":31.6},{"s":"Foot","h":35.37,"v":31.73},{"s":"Foot","h":35.42,"v":31.73},{"s":"Foot","h":35.46,"v":31.6},{"s":"Foot","h":35.55,"v":31.54},{"s":"Foot","h":35.68,"v":31.47},{"s":"Foot","h":35.81,"v":31.41},{"s":"Foot","h":35.89,"v":31.28},{"s":"Foot","h":35.98,"v":31.21},{"s":"Foot","h":36.11,"v":31.02},{"s":"Foot","h":36.19,"v":30.89},{"s":"Foot","h":36.32,"v":30.69},{"s":"Foot","h":36.45,"v":30.56},{"s":"Foot","h":36.54,"v":30.37},{"s":"Foot","h":36.63,"v":30.17},{"s":"Foot","h":36.76,"v":29.98},{"s":"Foot","h":36.84,"v":29.88},{"s":"Foot","h":36.93,"v":29.98},{"s":"Foot","h":37.02,"v":30.0},{"s":"Foot","h":37.1,"v":30.3},{"s":"Foot","h":37.19,"v":30.76},{"s":"Foot","h":37.28,"v":31.02},{"s":"Foot","h":37.36,"v":31.15},{"s":"Foot","h":37.45,"v":31.21},{"s":"Foot","h":37.54,"v":31.34},{"s":"Foot","h":37.58,"v":31.41},{"s":"Foot","h":37.67,"v":31.21},{"s":"Foot","h":37.75,"v":31.02},{"s":"Foot","h":37.8,"v":31.08},{"s":"Foot","h":37.87,"v":31.02},{"s":"Foot","h":37.93,"v":30.89},{"s":"Foot","h":38.01,"v":31.02},{"s":"Foot","h":38.1,"v":31.28},{"s":"Foot","h":38.23,"v":31.54},{"s":"Foot","h":38.32,"v":31.93},{"s":"Foot","h":38.4,"v":32.19},{"s":"Foot","h":38.49,"v":32.45},{"s":"Foot","h":38.58,"v":32.71},{"s":"Foot","h":38.66,"v":33.1},{"s":"Foot","h":38.75,"v":33.36},{"s":"Foot","h":38.88,"v":33.49},{"s":"Foot","h":38.97,"v":33.75},{"s":"Foot","h":39.1,"v":34.08},{"s":"Foot","h":39.18,"v":34.14},{"s":"Foot","h":39.22,"v":34.08},{"s":"Foot","h":39.31,"v":33.95},{"s":"Foot","h":39.39,"v":33.82},{"s":"Foot","h":39.52,"v":33.62},{"s":"Foot","h":39.7,"v":33.62},{"s":"Foot","h":39.78,"v":33.69},{"s":"Foot","h":39.87,"v":33.72},{"s":"Foot","h":39.96,"v":33.62},{"s":"Foot","h":40.13,"v":33.62},{"s":"Foot","h":40.22,"v":33.56},{"s":"Foot","h":40.3,"v":33.43},{"s":"Foot","h":40.43,"v":33.36},{"s":"Foot","h":40.56,"v":33.23},{"s":"Foot","h":40.69,"v":33.04},{"s":"Foot","h":40.78,"v":32.91},{"s":"Foot","h":40.87,"v":32.97},{"s":"Foot","h":41.0,"v":33.1},{"s":"Foot","h":41.13,"v":33.1},{"s":"Foot","h":41.21,"v":33.04},{"s":"Foot","h":41.3,"v":32.84},{"s":"Foot","h":41.43,"v":32.58},{"s":"Foot","h":41.56,"v":32.32},{"s":"Foot","h":41.69,"v":32.12},{"s":"Foot","h":41.86,"v":31.99},{"s":"Foot","h":41.99,"v":31.86},{"s":"Foot","h":42.12,"v":31.73},{"s":"Foot","h":42.25,"v":31.6},{"s":"Foot","h":42.31,"v":31.57},{"s":"Foot","h":42.38,"v":31.73},{"s":"Foot","h":42.47,"v":31.86},{"s":"Foot","h":42.55,"v":31.99},{"s":"Foot","h":42.64,"v":32.19},{"s":"Foot","h":42.77,"v":32.38},{"s":"Foot","h":42.86,"v":32.45},{"s":"Foot","h":42.94,"v":32.45},{"s":"Foot","h":43.03,"v":32.58},{"s":"Foot","h":43.12,"v":32.71},{"s":"Foot","h":43.23,"v":32.78},{"s":"Foot","h":43.33,"v":32.58},{"s":"Foot","h":43.44,"v":32.45},{"s":"Foot","h":43.52,"v":32.25},{"s":"Foot","h":43.61,"v":31.99},{"s":"Foot","h":43.7,"v":31.73},{"s":"Foot","h":43.78,"v":31.41},{"s":"Foot","h":43.87,"v":31.02},{"s":"Foot","h":43.96,"v":31.02},{"s":"Foot","h":44.04,"v":31.28},{"s":"Foot","h":44.13,"v":31.15},{"s":"Foot","h":44.22,"v":31.21},{"s":"Foot","h":44.3,"v":31.47},{"s":"Foot","h":44.39,"v":31.6},{"s":"Foot","h":44.48,"v":31.73},{"s":"Foot","h":44.56,"v":31.67},{"s":"Foot","h":44.65,"v":31.93},{"s":"Foot","h":44.72,"v":31.54},{"s":"Foot","h":44.78,"v":31.6},{"s":"Foot","h":44.87,"v":31.41},{"s":"Foot","h":44.95,"v":31.28},{"s":"Foot","h":45.08,"v":31.28},{"s":"Foot","h":45.17,"v":31.21},{"s":"Foot","h":45.26,"v":31.02},{"s":"Foot","h":45.39,"v":30.76},{"s":"Foot","h":45.52,"v":30.37},{"s":"Foot","h":45.65,"v":30.11},{"s":"Foot","h":45.73,"v":29.72},{"s":"Foot","h":45.82,"v":29.33},{"s":"Foot","h":45.9,"v":29.2},{"s":"Foot","h":45.99,"v":29.2},{"s":"Foot","h":46.08,"v":29.33},{"s":"Foot","h":46.16,"v":29.13},{"s":"Foot","h":46.25,"v":28.94},{"s":"Foot","h":46.34,"v":28.74},{"s":"Foot","h":46.42,"v":28.42},{"s":"Foot","h":46.51,"v":28.55},{"s":"Foot","h":46.6,"v":28.22},{"s":"Foot","h":46.68,"v":28.42},{"s":"Foot","h":46.77,"v":28.55},{"s":"Foot","h":46.86,"v":28.55},{"s":"Foot","h":46.9,"v":28.29},{"s":"Foot","h":46.94,"v":28.42},{"s":"Foot","h":47.07,"v":28.42},{"s":"Foot","h":47.16,"v":28.29},{"s":"Foot","h":47.25,"v":28.09},{"s":"Foot","h":47.32,"v":27.9}
]},
"layer":[
 {
  "data":{"name":"d"},
  "mark":{"type":"line","clip":true,"interpolate":"linear"},
  "encoding":{
   "x":{"field":"h","type":"quantitative","title":"Time",
     "scale":{"domain":[21.46,47.91],"nice":false,"zero":false},
     "axis":{"orient":"bottom","values":[21.5,23,24,25,26,27,28,29,30,31,32,33,34,35,36,37,38,39,40,41,42,43,44,45,46,47],
       "labelExpr":"pad(floor(datum.value % 24) + '', 2, '0', 'left') + ':' + (datum.value % 1 > 0 ? '30' : '00')",
       "grid":true,"ticks":true,"tickSize":-10,"labelPadding":22,"labelFlush":false,"labelOverlap":false,"titlePadding":7,"domain":true}},
   "y":{"field":"v","type":"quantitative","title":"skin temperature",
     "scale":{"domain":[22,38],"nice":false,"zero":false},
     "axis":{"orient":"left","values":[22,24,26,28,30,32,34,36,38],"grid":true,"ticks":true,"tickSize":-10,"labelPadding":16,"titlePadding":0,"domain":true}},
   "color":{"field":"s","type":"nominal","sort":["Hand","Armpit","Foot"],
     "scale":{"domain":["Hand","Armpit","Foot"],"range":["#2a97d4","#fb6c42","#fcbd3e"]},
     "legend":{"orient":"none","legendX":863,"legendY":15,"title":null,"direction":"vertical",
       "symbolType":"M-5.2,0H5.2","symbolSize":30,"symbolStrokeWidth":1.2,"symbolOffset":9,"labelOffset":8,
       "labelFontSize":11,"labelFont":"Liberation Sans","labelColor":"#000000","rowPadding":7,
       "strokeColor":"#262626","fillColor":"#ffffff","padding":4,
       "labelExpr":"datum.label + ' Skin Temperature'"}},
   "strokeWidth":{"field":"s","type":"nominal","scale":{"domain":["Hand","Armpit","Foot"],"range":[1.4,1.1,1.1]},"legend":null}
  }
 },
 {
  "data":{"values":[{}]},
  "mark":{"type":"point","opacity":0},
  "encoding":{
   "x":{"datum":30,"type":"quantitative","axis":{"orient":"top","title":null,"labels":false,"grid":false,"domain":false,"ticks":true,"tickSize":-10,"values":[21.5,23,24,25,26,27,28,29,30,31,32,33,34,35,36,37,38,39,40,41,42,43,44,45,46,47]}},
   "y":{"datum":30,"type":"quantitative","axis":{"orient":"right","title":null,"labels":false,"grid":false,"domain":false,"ticks":true,"tickSize":-10,"values":[22,24,26,28,30,32,34,36,38]}}
  }
 }
],
"resolve":{"axis":{"x":"independent","y":"independent"}}
}
